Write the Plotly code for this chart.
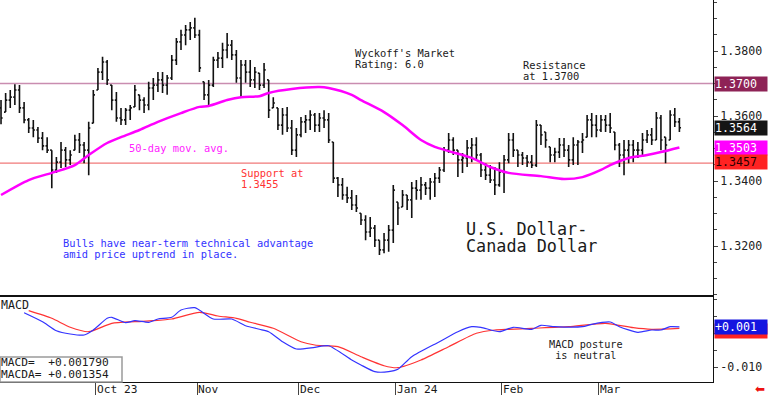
import pandas as pd
import plotly.graph_objects as go

# ---------------- data ----------------
dates = pd.bdate_range("2023-09-01", "2024-03-26").strftime("%Y-%m-%d").tolist()

opens = [1.3625,1.3612,1.3649,1.3658,1.3680,1.3625,1.3588,1.3563,1.3557,1.3532,
         1.3508,1.3495,1.3434,1.3458,1.3495,1.3465,1.3495,1.3526,1.3511,1.3495,
         1.3578,1.3680,1.3735,1.3766,1.3695,1.3649,1.3594,1.3588,1.3618,1.3628,
         1.3665,1.3649,1.3634,1.3686,1.3695,1.3711,1.3695,1.3717,1.3772,1.3828,
         1.3849,1.3865,1.3871,1.3849,1.3705,1.3665,1.3695,1.3772,1.3778,1.3803,
         1.3818,1.3788,1.3717,1.3757,1.3735,1.3711,1.3732,1.3695,1.3711,1.3625,
         1.3625,1.3572,1.3603,1.3563,1.3495,1.3542,1.3582,1.3588,1.3603,1.3572,
         1.3594,1.3588,1.3520,1.3409,1.3388,1.3357,1.3348,1.3326,1.3301,1.3280,
         1.3243,1.3255,1.3218,1.3188,1.3218,1.3249,1.3335,1.3320,1.3357,1.3342,
         1.3378,1.3372,1.3388,1.3378,1.3397,1.3409,1.3434,1.3495,1.3526,1.3495,
         1.3465,1.3471,1.3502,1.3511,1.3480,1.3434,1.3418,1.3403,1.3388,1.3428,
         1.3465,1.3526,1.3495,1.3480,1.3471,1.3458,1.3449,1.3572,1.3551,1.3505,
         1.3480,1.3489,1.3511,1.3495,1.3465,1.3511,1.3520,1.3535,1.3588,1.3572,
         1.3557,1.3588,1.3572,1.3551,1.3511,1.3480,1.3495,1.3511,1.3495,1.3495,
         1.3526,1.3542,1.3526,1.3594,1.3535,1.3526,1.3603,1.3582]
highs = [1.3649,1.3671,1.3680,1.3698,1.3695,1.3643,1.3594,1.3588,1.3566,1.3551,
         1.3535,1.3495,1.3474,1.3520,1.3505,1.3495,1.3542,1.3548,1.3520,1.3582,
         1.3680,1.3748,1.3782,1.3772,1.3695,1.3674,1.3625,1.3625,1.3634,1.3695,
         1.3665,1.3658,1.3705,1.3717,1.3735,1.3735,1.3726,1.3788,1.3840,1.3865,
         1.3880,1.3889,1.3902,1.3865,1.3705,1.3711,1.3782,1.3797,1.3825,1.3855,
         1.3834,1.3803,1.3772,1.3772,1.3772,1.3751,1.3732,1.3763,1.3711,1.3658,
         1.3625,1.3625,1.3628,1.3588,1.3563,1.3597,1.3603,1.3618,1.3609,1.3609,
         1.3618,1.3609,1.3520,1.3412,1.3409,1.3382,1.3372,1.3357,1.3301,1.3295,
         1.3289,1.3265,1.3218,1.3240,1.3265,1.3388,1.3335,1.3372,1.3357,1.3397,
         1.3403,1.3412,1.3397,1.3409,1.3425,1.3443,1.3505,1.3548,1.3535,1.3495,
         1.3486,1.3526,1.3532,1.3535,1.3486,1.3455,1.3449,1.3443,1.3458,1.3480,
         1.3548,1.3548,1.3495,1.3489,1.3480,1.3480,1.3588,1.3572,1.3551,1.3505,
         1.3502,1.3532,1.3532,1.3511,1.3535,1.3526,1.3548,1.3603,1.3609,1.3603,
         1.3603,1.3603,1.3609,1.3551,1.3517,1.3526,1.3526,1.3526,1.3520,1.3548,
         1.3557,1.3563,1.3612,1.3603,1.3535,1.3618,1.3625,1.3594]
lows = [1.3575,1.3612,1.3625,1.3634,1.3609,1.3578,1.3548,1.3535,1.3517,1.3495,
        1.3486,1.3378,1.3425,1.3440,1.3443,1.3449,1.3495,1.3486,1.3455,1.3418,
        1.3578,1.3680,1.3711,1.3695,1.3618,1.3582,1.3572,1.3572,1.3588,1.3628,
        1.3618,1.3609,1.3618,1.3649,1.3674,1.3671,1.3665,1.3711,1.3757,1.3803,
        1.3818,1.3834,1.3840,1.3735,1.3649,1.3628,1.3689,1.3748,1.3748,1.3778,
        1.3772,1.3702,1.3658,1.3702,1.3689,1.3686,1.3680,1.3686,1.3594,1.3625,
        1.3557,1.3542,1.3551,1.3480,1.3474,1.3535,1.3548,1.3557,1.3551,1.3551,
        1.3563,1.3517,1.3394,1.3351,1.3342,1.3332,1.3311,1.3305,1.3265,1.3218,
        1.3228,1.3197,1.3172,1.3178,1.3182,1.3209,1.3265,1.3320,1.3311,1.3286,
        1.3342,1.3342,1.3357,1.3342,1.3351,1.3394,1.3428,1.3486,1.3480,1.3412,
        1.3425,1.3443,1.3458,1.3465,1.3412,1.3403,1.3394,1.3357,1.3382,1.3363,
        1.3455,1.3474,1.3443,1.3449,1.3443,1.3440,1.3443,1.3511,1.3502,1.3458,
        1.3458,1.3471,1.3474,1.3443,1.3449,1.3449,1.3486,1.3535,1.3535,1.3535,
        1.3551,1.3551,1.3548,1.3495,1.3443,1.3418,1.3455,1.3458,1.3471,1.3474,
        1.3517,1.3511,1.3526,1.3495,1.3455,1.3526,1.3566,1.3551]
closes = [1.3594,1.3649,1.3658,1.3680,1.3625,1.3588,1.3563,1.3557,1.3532,1.3508,
          1.3495,1.3434,1.3458,1.3495,1.3465,1.3480,1.3526,1.3511,1.3495,1.3563,
          1.3665,1.3735,1.3766,1.3711,1.3649,1.3594,1.3588,1.3618,1.3625,1.3680,
          1.3649,1.3634,1.3686,1.3695,1.3711,1.3695,1.3717,1.3772,1.3828,1.3849,
          1.3865,1.3871,1.3849,1.3748,1.3665,1.3695,1.3772,1.3778,1.3803,1.3818,
          1.3788,1.3717,1.3757,1.3735,1.3711,1.3735,1.3695,1.3742,1.3618,1.3640,
          1.3572,1.3603,1.3563,1.3495,1.3542,1.3582,1.3588,1.3603,1.3572,1.3594,
          1.3588,1.3526,1.3409,1.3388,1.3357,1.3348,1.3326,1.3317,1.3280,1.3243,
          1.3255,1.3218,1.3188,1.3218,1.3249,1.3372,1.3317,1.3357,1.3342,1.3378,
          1.3372,1.3388,1.3378,1.3397,1.3409,1.3434,1.3495,1.3526,1.3495,1.3465,
          1.3471,1.3502,1.3511,1.3480,1.3434,1.3418,1.3403,1.3388,1.3428,1.3465,
          1.3526,1.3495,1.3480,1.3471,1.3458,1.3449,1.3572,1.3542,1.3526,1.3480,
          1.3489,1.3511,1.3495,1.3465,1.3511,1.3520,1.3526,1.3588,1.3572,1.3557,
          1.3588,1.3572,1.3563,1.3511,1.3480,1.3495,1.3511,1.3495,1.3495,1.3526,
          1.3542,1.3526,1.3594,1.3526,1.3511,1.3603,1.3582,1.3564]

# 50-day moving average, read at selected bars (bar number, value)
ma_bar = [0,6,11,16,19,23,26,30,34,39,43,45,49,52,56,58,63,69,71,76,78,83,87,91,
          94,97,102,106,110,117,122,126,130,132,136,140,143,147]
ma_val = [1.3357,1.3403,1.3425,1.3449,1.3480,1.3517,1.3535,1.3557,1.3582,1.3609,
          1.3628,1.3631,1.3649,1.3658,1.3661,1.3671,1.3683,1.3689,1.3686,1.3665,
          1.3649,1.3612,1.3572,1.3526,1.3505,1.3492,1.3471,1.3443,1.3425,1.3415,
          1.3406,1.3412,1.3434,1.3449,1.3471,1.3480,1.3489,1.3503]

# MACD (blue) and MACDA signal (red), read at selected bars
macd_bar = [5,9,12,15,18,20,23,24,27,29,32,34,37,39,42,46,50,53,56,58,61,64,68,71,
            76,78,81,84,86,89,95,99,102,104,108,111,115,117,120,126,128,132,134,
            138,141,143,145,147]
macd_val = [0.00597,0.00332,0.00068,-0.00029,-0.00059,0.00088,0.00432,0.00462,
            0.00303,0.00362,0.00315,0.00412,0.00462,0.00676,0.00744,0.00412,
            0.00412,0.00215,0.00109,0.00038,-0.00256,-0.00471,-0.00421,-0.00374,
            -0.00794,-0.00941,-0.01138,-0.01138,-0.01068,-0.00696,-0.00256,0.00038,
            0.00185,0.00168,0.00038,0.00168,0.00109,0.00226,0.00185,0.00185,
            0.00256,0.00324,0.00185,0.00021,0.00088,0.00088,0.00185,0.00179]
signal_bar = [6,11,15,19,24,29,33,37,43,47,51,54,59,65,68,73,78,83,86,91,97,103,
              107,110,115,123,131,137,141,147]
signal_val = [0.00656,0.00432,0.00168,0.00038,0.00285,0.00332,0.00362,0.00412,
              0.00609,0.00500,0.00432,0.00315,0.00138,-0.00256,-0.00353,-0.00403,
              -0.00697,-0.00962,-0.01021,-0.00794,-0.00403,-0.00009,0.00088,
              0.00109,0.00138,0.00185,0.00285,0.00156,0.00109,0.00135]

RESISTANCE = 1.3700
SUPPORT = 1.3455
LAST_CLOSE = 1.3564
LAST_MA = 1.3503
SUPPORT_TAG = 1.3457
MACD_LAST = 0.001790
MACDA_LAST = 0.001354

month_labels = ["Oct 23", "Nov", "Dec", "Jan 24", "Feb", "Mar"]

# ---------------- figure ----------------
MONO = "DejaVu Sans Mono"
W, H = 768, 395
ML, MR, MT, MB = 0, 55, 0, 13
PW, PH = W - ML - MR, H - MT - MB
split = 86 / PH  # MACD panel share

def px(x):
    return x / PW

def py(y):
    return 1 - y / PH

bar_x = list(range(len(dates)))
month_ticks = [i - 0.5 for i in range(1, len(dates)) if dates[i][:7] != dates[i - 1][:7]]

fig = go.Figure()
fig.add_trace(go.Ohlc(
    x=bar_x, open=opens, high=highs, low=lows, close=closes,
    increasing=dict(line=dict(color="#111111", width=1.6)),
    decreasing=dict(line=dict(color="#111111", width=1.6)),
    tickwidth=0.35, hoverinfo="skip", showlegend=False, xaxis="x", yaxis="y"))
fig.add_trace(go.Scatter(
    x=ma_bar, y=ma_val, mode="lines", line=dict(color="#FF00FF", width=2.5, shape="spline", smoothing=0.8),
    hoverinfo="skip", showlegend=False, xaxis="x", yaxis="y"))
fig.add_trace(go.Scatter(
    x=signal_bar, y=signal_val, mode="lines", line=dict(color="#FF3333", width=1.2, shape="spline", smoothing=0.6),
    hoverinfo="skip", showlegend=False, xaxis="x", yaxis="y2"))
fig.add_trace(go.Scatter(
    x=macd_bar, y=macd_val, mode="lines", line=dict(color="#3333FF", width=1.2, shape="spline", smoothing=0.6),
    hoverinfo="skip", showlegend=False, xaxis="x", yaxis="y2"))

shapes = [
    dict(type="line", xref="x domain", yref="y", x0=0, x1=1, y0=RESISTANCE, y1=RESISTANCE,
         line=dict(color="#C98DB0", width=1.5), layer="below"),
    dict(type="line", xref="x domain", yref="y", x0=0, x1=1, y0=SUPPORT, y1=SUPPORT,
         line=dict(color="#F07878", width=1.2), layer="below"),
    dict(type="line", xref="paper", yref="paper", x0=0, x1=1, y0=split, y1=split,
         line=dict(color="#111111", width=2)),
    dict(type="rect", xref="paper", yref="paper", x0=px(0), x1=px(122), y0=py(382), y1=py(357),
         line=dict(color="#9A9A9A", width=1.5), fillcolor="white"),
]

def txt(x, y, s, color="#1a1a1a", size=10.4, **kw):
    return dict(xref="paper", yref="paper", x=px(x), y=py(y), text=s, showarrow=False,
                xanchor="left", yanchor="middle", align="left", borderpad=0,
                font=dict(family=MONO, size=size, color=color), **kw)

ann = [
    txt(354, 53, "Wyckoff's Market"),
    txt(354, 64, "Rating: 6.0"),
    txt(522, 65, "Resistance"),
    txt(522, 76, "at 1.3700"),
    txt(128, 148, "50-day mov. avg.", color="#FF22FF"),
    txt(240, 173, "Support at", color="#FF3333"),
    txt(240, 184, "1.3455", color="#FF3333"),
    txt(62, 243, "Bulls have near-term technical advantage", color="#3333FF"),
    txt(62, 254, "amid price uptrend in place.", color="#3333FF"),
    txt(465, 229, "U.S. Dollar-", size=16.8),
    txt(465, 246, "Canada Dollar", size=16.8),
    txt(0, 305, "MACD", size=11.6),
    txt(0, 362.5, "MACD=  +%.6f" % MACD_LAST, size=11.2),
    txt(0, 374.5, "MACDA= +%.6f" % MACDA_LAST, size=11.2),
    txt(548, 344.5, "MACD posture", size=10.2),
    txt(548, 355.5, " is neutral", size=10.2),
]

for t, lab in zip(month_ticks, month_labels):
    ann.append(dict(xref="x", yref="paper", x=t, y=py(389), yanchor="middle", xanchor="left",
                    text=lab, showarrow=False, xshift=0, borderpad=0,
                    font=dict(family=MONO, size=11.2, color="#1a1a1a")))

def tag(yval, yref, s, bg, fg):
    return dict(xref="paper", yref=yref, x=1, y=yval, xanchor="left", yanchor="middle",
                text=s, showarrow=False, xshift=1, width=52, align="left",
                bgcolor=bg, borderpad=0, font=dict(family=MONO, size=11.6, color=fg))

ann += [
    tag(RESISTANCE, "y", "1.3700", "#8E2356", "white"),
    tag(LAST_CLOSE, "y", "1.3564", "#151515", "white"),
    tag(LAST_MA, "y", "1.3503", "#FF00FF", "white"),
    tag(SUPPORT_TAG, "y", "1.3457", "#FF2222", "#2a0000"),
    tag(MACDA_LAST - 0.0008, "y2", " ", "#FF2222", "white"),
    tag(MACD_LAST, "y2", "+0.001", "#1515E0", "white"),
    dict(xref="paper", yref="paper", x=px(760), y=py(389), text="⬅", showarrow=False,
         xanchor="center", yanchor="middle", font=dict(family="DejaVu Sans", size=12, color="#EE1111")),
]

fig.update_layout(
    width=W, height=H, margin=dict(l=ML, r=MR, t=MT, b=MB),
    paper_bgcolor="white", plot_bgcolor="white", showlegend=False,
    shapes=shapes, annotations=ann,
    xaxis=dict(domain=[0, 1], range=[-0.22, 154.28], anchor="y2", showgrid=False, zeroline=False,
               showline=True, linecolor="#111111", linewidth=1, ticks="outside", ticklen=13,
               tickcolor="#444444", tickwidth=1, tickmode="array", tickvals=month_ticks,
               showticklabels=False, rangeslider=dict(visible=False), fixedrange=True,
               automargin=False),
    yaxis=dict(domain=[split, 1], range=[1.30462, 1.39569], side="right", anchor="x",
               showgrid=False, zeroline=False, showline=True, linecolor="#111111", linewidth=1,
               tickmode="linear", tick0=1.32, dtick=0.02, tickformat=".4f",
               ticks="outside", ticklen=4, tickcolor="#444444", automargin=False,
               minor=dict(dtick=0.005, tick0=1.32, ticks="outside", ticklen=3, tickcolor="#444444"),
               tickfont=dict(family=MONO, size=11.6, color="#222222")),
    yaxis2=dict(domain=[0, split], range=[-0.014412, 0.010882], side="right", anchor="x",
                showgrid=False, zeroline=False, showline=True, linecolor="#111111", linewidth=1,
                tickmode="array", tickvals=[-0.01, 0.0], ticktext=["-0.010", "0.000"],
                ticks="outside", ticklen=4, tickcolor="#444444", automargin=False,
                minor=dict(tickmode="linear", tick0=0, dtick=0.005, ticks="outside", ticklen=3, tickcolor="#444444"),
                tickfont=dict(family=MONO, size=11.6, color="#222222")),
)

fig.write_html("out.html", config={"displayModeBar": False},
               post_script="document.body.style.margin='0';document.body.style.overflow='hidden';")
